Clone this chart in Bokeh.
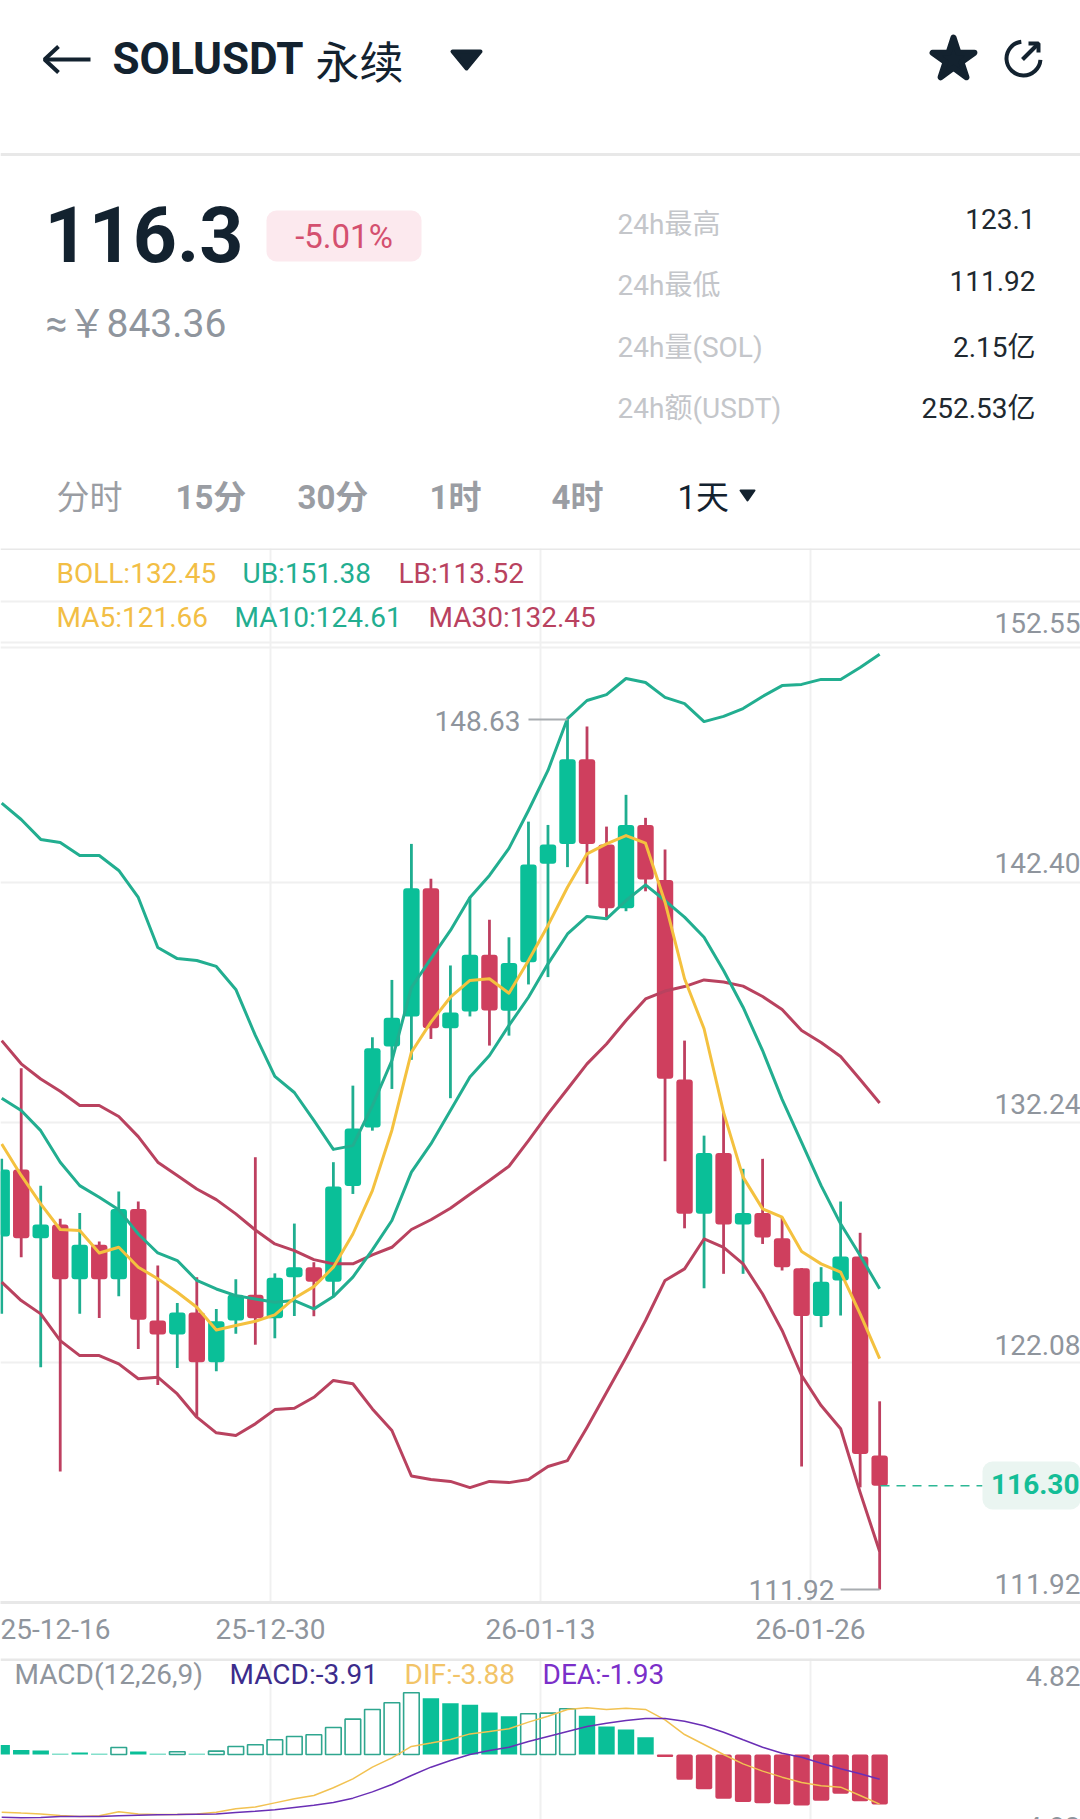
from bokeh.plotting import figure
from bokeh.layouts import column
from bokeh.models import (ColumnDataSource, Label, Range1d, FixedTicker, Grid, LinearAxis, Span)
from bokeh.embed import file_html
from bokeh.resources import INLINE

# ---------- data ----------
OPEN = [126.81,129.64,126.74,127.32,125.01,126.47,125.01,127.98,123.27,122.68,123.61,121.51,123.27,124.36,123.37,125.10,125.52,124.90,128.95,131.41,134.83,136.10,141.51,135.60,136.31,138.70,136.34,138.39,142.54,143.38,146.95,143.35,140.67,144.18,141.86,133.44,127.77,130.34,127.32,127.81,126.74,125.48,123.46,124.96,125.97,117.57]
HIGH = [130.09,133.91,128.96,127.56,127.81,126.60,128.71,128.29,125.59,124.01,125.10,123.76,125.01,130.16,125.26,127.36,125.73,129.95,133.18,135.22,137.64,143.38,141.91,138.25,141.13,140.18,139.44,144.32,144.18,148.63,148.33,144.11,145.45,144.48,143.14,135.08,131.07,132.06,129.67,130.09,127.63,125.48,125.52,128.29,126.97,119.86]
LOW = [123.55,125.94,121.30,116.90,123.55,123.38,124.29,122.07,120.55,121.27,119.23,121.13,122.71,122.25,122.52,123.46,123.45,124.29,128.61,131.28,133.04,134.27,135.15,132.65,136.10,134.87,135.29,137.45,137.76,142.40,141.69,140.29,140.54,141.38,129.99,127.16,124.63,125.24,125.24,126.50,125.38,117.11,122.99,123.48,116.23,111.92]
CLOSE = [129.64,126.74,127.32,125.01,126.47,125.01,127.98,123.30,122.68,123.61,121.51,123.24,124.36,123.37,125.07,125.52,124.90,128.92,131.37,134.76,136.04,141.51,135.60,136.27,138.70,136.35,138.35,142.51,143.35,146.95,143.38,140.67,144.18,141.88,133.47,127.77,130.34,127.32,127.81,126.77,125.52,123.46,124.91,125.97,117.64,116.30]
MA5 = [130.72,129.39,128.19,127.11,127.07,126.12,126.36,125.52,125.03,124.46,123.83,122.87,123.06,123.24,123.51,124.21,124.70,125.52,126.92,128.75,131.30,134.59,135.86,136.91,137.62,137.69,137.08,138.46,139.94,141.55,142.96,143.38,143.73,143.41,140.92,137.69,135.58,132.05,129.32,127.98,127.63,126.18,125.66,125.31,123.55,121.66]
MA10 = [132.65,132.13,131.28,129.95,128.96,128.47,127.94,126.92,126.12,125.80,124.96,124.60,124.32,124.18,124.04,124.11,123.76,124.28,125.10,126.25,127.49,129.53,130.72,132.13,133.54,134.45,135.72,136.91,138.32,139.58,140.32,140.22,140.99,141.65,140.99,140.29,139.44,138.04,136.49,134.66,132.60,130.79,128.96,127.35,126.01,124.61]
MA30 = [135.08,134.10,133.46,132.94,132.34,132.34,131.88,131.03,129.95,129.39,128.82,128.37,127.77,127.09,126.50,126.22,125.84,125.66,125.66,126.04,126.36,127.11,127.52,128.01,128.60,129.18,129.78,130.86,131.99,133.04,134.10,134.94,135.93,136.84,137.17,137.36,137.64,137.55,137.38,136.94,136.39,135.51,135.00,134.41,133.44,132.45]
UB = [145.10,144.41,143.57,143.44,142.89,142.89,142.26,141.12,139.01,138.54,138.46,138.21,137.24,135.30,133.57,132.89,131.71,130.49,130.65,132.34,134.24,137.32,138.54,139.73,141.12,142.05,143.19,144.79,146.48,148.67,149.43,149.68,150.36,150.19,149.56,149.30,148.54,148.76,149.09,149.60,150.06,150.11,150.32,150.32,150.82,151.38]
LB = [124.89,124.11,123.55,122.42,121.79,121.79,121.44,120.81,120.88,120.17,119.19,118.53,118.42,118.91,119.51,119.57,120.03,120.74,120.60,119.54,118.63,116.71,116.56,116.48,116.22,116.48,116.43,116.56,117.11,117.36,118.76,120.23,121.71,123.27,124.96,125.45,126.71,126.36,125.66,124.39,122.85,120.95,119.68,118.70,116.02,113.52]
HIST = [0.75,0.36,0.31,0.05,0.16,0.05,0.55,0.23,0.05,0.21,0.05,0.26,0.63,0.76,1.15,1.41,1.54,2.11,2.76,3.52,4.04,4.82,4.40,4.01,3.88,3.28,2.99,3.18,3.23,3.57,3.02,2.19,1.95,1.35,-0.20,-1.98,-2.71,-3.46,-3.72,-3.80,-3.88,-3.98,-3.62,-3.07,-3.65,-3.91]
HIST_HOLLOW = [0,0,0,0,0,0,1,0,0,1,0,1,1,1,1,1,1,1,1,1,1,1,0,0,0,0,0,1,1,1,0,0,0,0,0,0,0,0,0,0,0,0,0,0,0,0]
DIF = [-4.51,-4.58,-4.64,-4.77,-4.84,-4.79,-4.48,-4.64,-4.69,-4.69,-4.64,-4.51,-4.24,-4.11,-3.78,-3.46,-3.20,-2.60,-1.90,-0.99,-0.26,0.63,0.89,1.17,1.61,1.80,2.01,2.53,2.99,3.52,3.65,3.52,3.62,3.52,2.71,1.56,0.78,0.00,-0.73,-1.30,-1.77,-2.19,-2.45,-2.55,-3.20,-3.88]
DEA = [-4.90,-4.95,-4.92,-4.84,-4.84,-4.84,-4.79,-4.74,-4.71,-4.69,-4.66,-4.64,-4.53,-4.43,-4.32,-4.14,-3.96,-3.75,-3.41,-2.92,-2.34,-1.64,-0.99,-0.47,0.00,0.31,0.57,1.02,1.41,1.80,2.19,2.45,2.66,2.81,2.81,2.60,2.24,1.74,1.15,0.57,0.10,-0.21,-0.68,-1.12,-1.51,-1.93]
PRICE_TICKS = [152.55, 142.40, 132.24, 122.08, 111.92]
DATE_LABELS = ["25-12-16", "25-12-30", "26-01-13", "26-01-26"]
STAT_NAMES = ["24h最高", "24h最低", "24h量(SOL)", "24h额(USDT)"]
STAT_VALUES = ["123.1", "111.92", "2.15亿", "252.53亿"]
TABS = ["分时", "15分", "30分", "1时", "4时", "1天"]
LAST = 116.30
MACD_TOP = "4.82"
MACD_BOTTOM = "-4.82"

# ---------- palette ----------
UP, DOWN = "#0ABF98", "#CF3F5E"
UPW, DOWNW = "#1FAE90", "#BE3F60"
TEAL, CRIM, GOLD = "#22AE90", "#B9425F", "#F4C13F"
GRAY, DARK = "#8F959D", "#13222F"
LINE = "#E8E8E8"; GRID = "#F0F0F0"
LATIN = "Roboto, 'Noto Sans CJK SC'"
CJK = "'Noto Sans CJK SC', Roboto"

IDX = list(range(len(CLOSE)))
# page-pixel geometry of the three stacked panels
PX_L, PX_R = 0, 1080
X0, DX = 1.2, 19.51               # pixel x of first candle, pixel step
Y_LOW, PY = 1589, 23.7            # pixel y of the lowest price, pixels per price unit
def ix(px): return (px - X0) / DX
def pv(py): return PRICE_TICKS[-1] + (Y_LOW - py) / PY
VX = [ix(270), ix(540), ix(810)]

def base(w, h, xr, yr, mb=0):
    p = figure(width=w, height=h, x_range=xr, y_range=yr, output_backend="svg",
               toolbar_location=None, x_axis_type=None, y_axis_type=None,
               min_border=0, min_border_left=0, min_border_right=0, min_border_top=0,
               min_border_bottom=mb, outline_line_color=None,
               background_fill_color="white", border_fill_color="white")
    p.grid.visible = False
    return p

def T(p, x, y, s, size, color, font=LATIN, align="left", style="normal", xn="default", yn="default", yo=0):
    p.add_layout(Label(x=x, y=y, text=s, text_font=font, text_font_size=f"{size}px", text_color=color,
                       text_align=align, text_baseline="middle", text_font_style=style, y_offset=yo,
                       x_range_name=xn, y_range_name=yn))

# ---------- header ----------
h = base(1080, 548, Range1d(PX_L, PX_R), Range1d(548, 0))
h.line([44, 90], [59, 59], line_color=DARK, line_width=4)
h.line([58, 44, 58], [46, 59, 72], line_color=DARK, line_width=4)
T(h, 112, 58, "SOLUSDT", 44, DARK, style="bold")
T(h, 315, 59, "永续", 44, DARK, font=CJK)
h.patch([452, 480, 466], [51, 51, 68], fill_color=DARK, line_color=DARK, line_width=4, line_join="round")
h.scatter([953], [59], marker="star", size=44, fill_color=DARK, line_color=DARK, line_width=6, line_join="round")
h.arc([1023], [58], radius=17, start_angle=1.7, end_angle=6.2, line_color=DARK, line_width=4)
h.line([1022, 1038], [59, 43], line_color=DARK, line_width=4)
h.line([1028, 1038, 1038], [43, 43, 52], line_color=DARK, line_width=4)
h.segment([PX_L], [154], [PX_R], [154], line_color=LINE, line_width=3)
T(h, 44, 233, "116.3", 77, DARK, style="bold")
h.vbar(x=[343.5], width=155, bottom=[261], top=[210], fill_color="#FCE9EE", line_color=None, border_radius=10)
T(h, 343.5, 236, "-5.01%", 33, "#D4506F", align="center")
T(h, 45, 323, "≈￥843.36", 39, GRAY)
for name, val, yn, yv in zip(STAT_NAMES, STAT_VALUES, [224, 285, 347, 408], [218, 280, 347, 408]):
    T(h, 617, yn, name, 28, "#C4C6CA")
    T(h, 1035, yv, val, 28, "#20282F", align="right")
for tab, x, st in zip(TABS, [56, 175, 297, 429, 551, 677], ["normal", "bold", "bold", "bold", "bold", "normal"]):
    T(h, x, 497, tab, 33, DARK if tab == "1天" else "#9A9DA3", style=st)
h.patch([740, 754, 747], [490, 490, 500], fill_color=DARK, line_color=DARK, line_width=2, line_join="round")

# ---------- candles ----------
c = base(1080, 1110, Range1d(ix(PX_L), ix(PX_R)), Range1d(pv(1602), pv(548)), mb=56)
c.extra_x_ranges["px"] = Range1d(PX_L, PX_R)
c.extra_y_ranges["py"] = Range1d(1602, 548)

hg = Grid(dimension=1, ticker=FixedTicker(ticks=[pv(1362), pv(1122), pv(882), pv(642), pv(601), pv(647)]),
          grid_line_color=GRID, grid_line_width=2)
vg = Grid(dimension=0, ticker=FixedTicker(ticks=VX), bounds=(pv(1602), pv(586)),
          grid_line_color=GRID, grid_line_width=2)
c.add_layout(hg); c.add_layout(vg)
c.add_layout(Span(location=548, dimension="width", y_range_name="py", line_color=LINE, line_width=3))

AX_TICKS = [ix(55)] + VX
ax = LinearAxis(ticker=FixedTicker(ticks=AX_TICKS),
                major_label_overrides=dict(zip(AX_TICKS, DATE_LABELS)),
                axis_line_color=LINE, axis_line_width=3, major_tick_line_color=None, minor_tick_line_color=None,
                major_label_text_color=GRAY, major_label_text_font="Roboto",
                major_label_text_font_size="28px", major_label_standoff=10)
c.add_layout(ax, "below")

up = [i for i in IDX if CLOSE[i] >= OPEN[i]]
dn = [i for i in IDX if CLOSE[i] < OPEN[i]]
for sel, body, wick in ((up, UP, UPW), (dn, DOWN, DOWNW)):
    src = ColumnDataSource(dict(x=sel, hi=[HIGH[i] for i in sel], lo=[LOW[i] for i in sel],
                                top=[max(OPEN[i], CLOSE[i]) for i in sel],
                                bot=[min(OPEN[i], CLOSE[i]) for i in sel]))
    c.segment("x", "hi", "x", "lo", source=src, line_color=wick, line_width=2.8)
    c.vbar(x="x", width=0.84, top="top", bottom="bot", source=src, fill_color=body, line_color=None, border_radius=3)

for ser, col in ((LB, CRIM), (MA30, CRIM), (UB, TEAL), (MA10, TEAL), (MA5, GOLD)):
    c.line(IDX, ser, line_color=col, line_width=3, line_join="round")

# price labels inside the plot, at the right
for v in PRICE_TICKS:
    T(c, ix(1080), v, f"{v:.2f}", 28, GRAY, align="right", yo=6 if v == PRICE_TICKS[-1] else 4)

# high / low call-outs
imax = HIGH.index(max(HIGH)); imin = LOW.index(min(LOW))
c.segment([imax - 2], [HIGH[imax]], [imax], [HIGH[imax]], line_color="#A8ACB0", line_width=2)
c.segment([imin - 2], [LOW[imin]], [imin], [LOW[imin]], line_color="#A8ACB0", line_width=2)
T(c, ix(520), HIGH[imax], f"{HIGH[imax]:.2f}", 28, GRAY, align="right", yo=-2)
T(c, ix(834), LOW[imin], f"{LOW[imin]:.2f}", 28, GRAY, align="right", yo=0)

# last price
lp = c.segment([ix(880)], [LAST], [ix(982)], [LAST], line_color="#2DB795", line_width=1.6)
lp.glyph.line_dash = [9, 7]
c.vbar(x=[ix(1040)], width=ix(1098) - ix(982), top=[pv(1461)], bottom=[pv(1509)], fill_color="#EAF5F1", line_color=None, border_radius=10)
T(c, ix(1079), LAST, f"{LAST:.2f}", 28, "#14BE97", align="right", style="bold", yo=2)

for x, y, s, col in ((56, 573, "BOLL:132.45", "#F2BE45"), (242, 573, "UB:151.38", TEAL), (398, 573, "LB:113.52", CRIM),
                     (56, 617, "MA5:121.66", "#F2BE45"), (234, 617, "MA10:124.61", TEAL), (428, 617, "MA30:132.45", CRIM)):
    T(c, x, y, s, 28, col, xn="px", yn="py")

# ---------- MACD ----------
ZERO, PU = 1754, 12.8
m = base(1080, 161, Range1d(ix(PX_L), ix(PX_R)), Range1d((ZERO - 1819) / PU, (ZERO - 1658) / PU))
m.extra_x_ranges["px"] = Range1d(PX_L, PX_R)
m.extra_y_ranges["py"] = Range1d(1819, 1658)
m.add_layout(Grid(dimension=0, ticker=FixedTicker(ticks=VX), grid_line_color=GRID, grid_line_width=2))
m.add_layout(Span(location=1659, dimension="width", y_range_name="py", line_color=LINE, line_width=3))

solid_up = [i for i in IDX if HIST[i] >= 0 and not HIST_HOLLOW[i]]
hollow = [i for i in IDX if HIST_HOLLOW[i]]
solid_dn = [i for i in IDX if HIST[i] < 0]
m.vbar(x=solid_up, width=0.84, top=[HIST[i] for i in solid_up], bottom=0, fill_color=UP, line_color=None)
m.vbar(x=hollow, width=0.8, top=[HIST[i] for i in hollow], bottom=0, fill_color="white", line_color="#2FA68F", line_width=1.6)
m.vbar(x=solid_dn, width=0.84, top=0, bottom=[HIST[i] for i in solid_dn], fill_color=DOWN, line_color=None, border_radius=2)
m.line(IDX, DIF, line_color="#F2C252", line_width=1.5)
m.line(IDX, DEA, line_color="#6A2FB5", line_width=1.5)
for x, s, col in ((14, "MACD(12,26,9)", GRAY), (229, "MACD:-3.91", "#3C2C8C"), (404, "DIF:-3.88", "#F2C468"), (542, "DEA:-1.93", "#7B2FC9")):
    T(m, x, 1674, s, 28, col, xn="px", yn="py")
T(m, 1080, 1675, MACD_TOP, 28, GRAY, align="right", xn="px", yn="py")
T(m, 1080, 1826, MACD_BOTTOM, 28, GRAY, align="right", xn="px", yn="py")

page = column(h, c, m, spacing=0)
open("out.html", "w").write(file_html(page, INLINE))
